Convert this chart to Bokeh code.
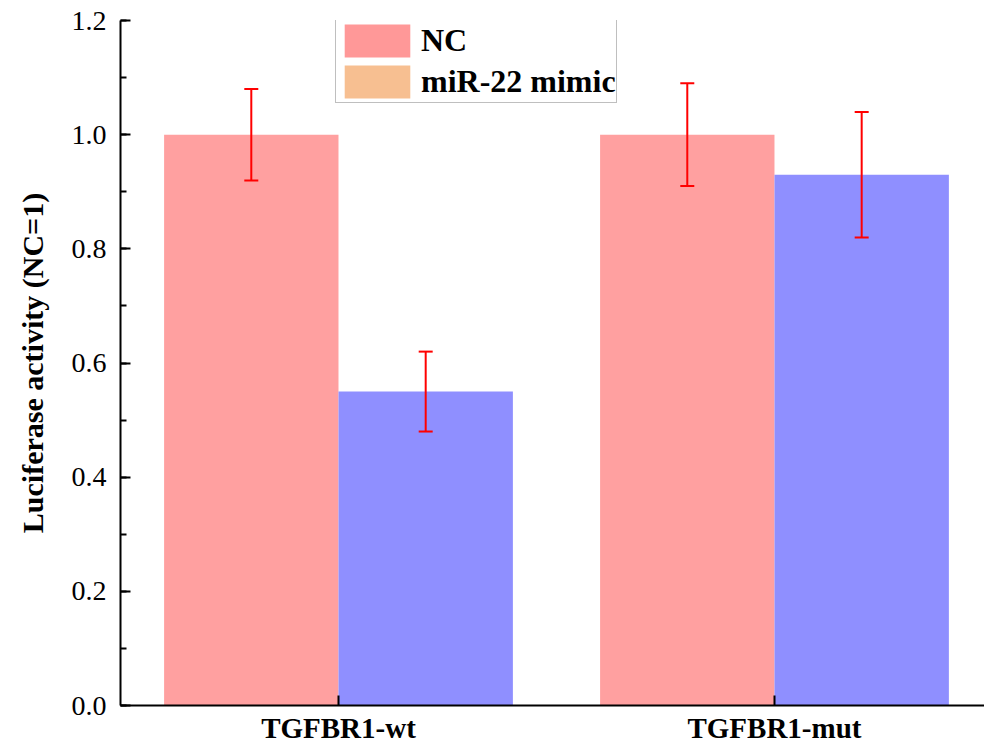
from bokeh.plotting import figure
from bokeh.models import (ColumnDataSource, Range1d, Whisker, TeeHead, Legend, LegendItem,
                          SingleIntervalTicker, FixedTicker, NumeralTickFormatter)
from bokeh.transform import dodge
from bokeh.embed import file_html
from bokeh.resources import INLINE

# ---- data ----
categories = ["TGFBR1-wt", "TGFBR1-mut"]
nc_values = [1.00, 1.00]
nc_err = [0.08, 0.09]
mimic_values = [0.55, 0.93]
mimic_err = [0.07, 0.11]
series_names = ["NC", "miR-22 mimic"]
y_ticks_interval = 0.2

positions = [i + 1 for i in range(len(categories))]

src = ColumnDataSource(dict(
    x=positions,
    nc=nc_values,
    nc_lo=[v - e for v, e in zip(nc_values, nc_err)],
    nc_hi=[v + e for v, e in zip(nc_values, nc_err)],
    mi=mimic_values,
    mi_lo=[v - e for v, e in zip(mimic_values, mimic_err)],
    mi_hi=[v + e for v, e in zip(mimic_values, mimic_err)],
))

SERIF = "Liberation Serif"
NC_BAR = "#FFA0A0"
MI_BAR = "#8F8FFF"
NC_SWATCH = "#FF9898"
MI_SWATCH = "#F7BF91"

p = figure(width=984, height=746, output_backend="svg", toolbar_location=None,
           x_range=Range1d(0.5, 2.4817), y_range=Range1d(0, 1.2001),
           min_border_left=120, min_border_right=0, min_border_top=20, min_border_bottom=40)
p.outline_line_color = None
p.xgrid.visible = False
p.ygrid.visible = False
p.background_fill_color = "white"

bw = 0.4
p.vbar(x=dodge("x", -bw / 2), top="nc", width=bw, source=src, fill_color=NC_BAR, line_color=None)
p.vbar(x=dodge("x", bw / 2), top="mi", width=bw, source=src, fill_color=MI_BAR, line_color=None)

for key, off in (("nc", -bw / 2), ("mi", bw / 2)):
    w = Whisker(base=dodge("x", off), upper=key + "_hi", lower=key + "_lo", source=src,
                line_color="#FF0000", line_width=2, level="overlay",
                upper_head=TeeHead(size=14, line_color="#FF0000", line_width=2),
                lower_head=TeeHead(size=14, line_color="#FF0000", line_width=2))
    p.add_layout(w)

# legend using dummy zero-height renderers (legend swatch colours differ from bars in the source)
dummy1 = ColumnDataSource(dict(x=positions[:1], top=[0]))
dummy2 = ColumnDataSource(dict(x=positions[:1], top=[0]))
r1 = p.vbar(x="x", top="top", width=0.01, source=dummy1, fill_color=NC_SWATCH, line_color=None)
r2 = p.vbar(x="x", top="top", width=0.01, source=dummy2, fill_color=MI_SWATCH, line_color=None)
legend = Legend(items=[LegendItem(label=series_names[0], renderers=[r1]),
                       LegendItem(label=series_names[1], renderers=[r2])],
                location=(215, 602), orientation="vertical")
legend.label_text_font = SERIF
legend.label_text_font_style = "bold"
legend.label_text_font_size = "32px"
legend.label_text_color = "black"
legend.glyph_width = 82
legend.glyph_height = 41
legend.label_height = 41
legend.label_standoff = 3
legend.padding = 0
legend.spacing = 0
legend.margin = 0
legend.border_line_color = "#808080"
legend.border_line_width = 1.5
legend.background_fill_alpha = 1
p.add_layout(legend, "center")

# y axis
ya = p.yaxis[0]
ya.ticker = SingleIntervalTicker(interval=y_ticks_interval, num_minor_ticks=2)
ya.formatter = NumeralTickFormatter(format="0.0")
ya.axis_label = "Luciferase activity (NC=1)"
ya.axis_label_text_font = SERIF
ya.axis_label_text_font_style = "bold"
ya.axis_label_text_font_size = "30px"
ya.axis_label_text_color = "black"
ya.axis_label_standoff = 20
ya.major_label_text_font = SERIF
ya.major_label_text_font_size = "28px"
ya.major_label_text_color = "black"
ya.major_label_standoff = 14
ya.major_tick_in = 10
ya.major_tick_out = 0
ya.minor_tick_in = 6
ya.minor_tick_out = 0
ya.axis_line_width = 2
ya.major_tick_line_width = 2
ya.minor_tick_line_width = 2
ya.axis_line_color = "black"

# x axis
xa = p.xaxis[0]
xa.ticker = FixedTicker(ticks=positions, minor_ticks=[])
xa.major_label_overrides = {pos: cat for pos, cat in zip(positions, categories)}
xa.major_label_text_font = SERIF
xa.major_label_text_font_style = "bold"
xa.major_label_text_font_size = "29px"
xa.major_label_text_color = "black"
xa.major_label_standoff = 6
xa.major_tick_in = 10
xa.major_tick_out = 0
xa.minor_tick_in = 0
xa.minor_tick_out = 0
xa.axis_line_width = 2
xa.major_tick_line_width = 2
xa.axis_line_color = "black"

open("out.html", "w").write(file_html(p, INLINE))
